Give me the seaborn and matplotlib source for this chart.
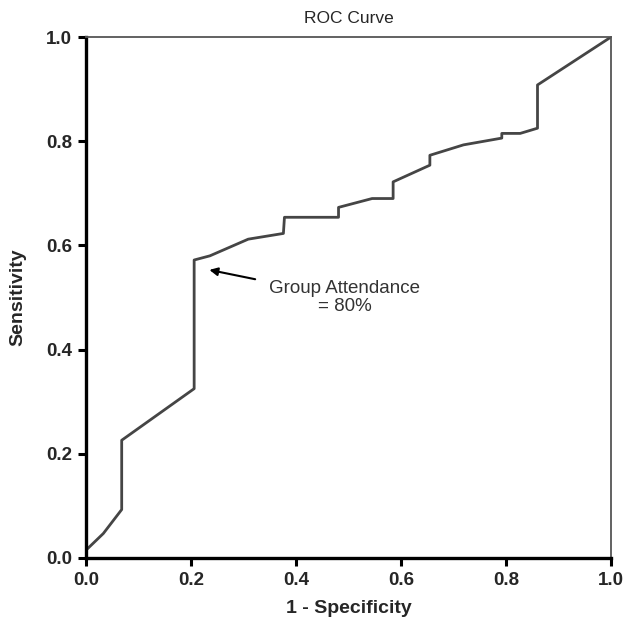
import matplotlib
matplotlib.use('Agg')
import matplotlib.pyplot as plt
import seaborn as sns
import pandas as pd

# ROC curve points
fpr = [0.0, 0.033, 0.068, 0.068, 0.206, 0.206, 0.236, 0.309, 0.376, 0.378,
       0.481, 0.481, 0.545, 0.585, 0.585, 0.655, 0.655, 0.719, 0.792, 0.792,
       0.827, 0.86, 0.86, 1.0]
tpr = [0.015, 0.047, 0.093, 0.226, 0.325, 0.572, 0.58, 0.612, 0.623, 0.654,
       0.654, 0.673, 0.69, 0.69, 0.722, 0.754, 0.773, 0.793, 0.806, 0.815,
       0.815, 0.825, 0.908, 1.0]
ticks = [0.0, 0.2, 0.4, 0.6, 0.8, 1.0]
tick_labels = ['0.0', '0.2', '0.4', '0.6', '0.8', '1.0']

df = pd.DataFrame({'fpr': fpr, 'tpr': tpr})

sns.set_style('ticks')
plt.rcParams['font.family'] = ['Liberation Sans', 'DejaVu Sans']

fig = plt.figure(figsize=(6.25, 6.33), dpi=100)
ax = fig.add_axes([0.1376, 0.1185, 0.84, 0.823])

# estimator=None so the steps are drawn as given, not averaged
sns.lineplot(data=df, x='fpr', y='tpr', sort=False, estimator=None,
             color='#454545', linewidth=2.0, ax=ax)

ax.set_xlim(0, 1)
ax.set_ylim(0, 1)
ax.set_xticks(ticks)
ax.set_xticklabels(tick_labels)
ax.set_yticks(ticks)
ax.set_yticklabels(tick_labels)
ax.tick_params(axis='both', direction='out', length=6, width=2.2, color='black',
               labelsize=13.5, pad=4)
for lab in ax.get_xticklabels() + ax.get_yticklabels():
    lab.set_fontweight('bold')

for side in ['left', 'bottom']:
    ax.spines[side].set_linewidth(2.4)
    ax.spines[side].set_color('black')
for side in ['top', 'right']:
    ax.spines[side].set_visible(True)
    ax.spines[side].set_linewidth(1.3)
    ax.spines[side].set_color('#555555')

ax.set_title('ROC Curve', fontsize=12.5, pad=10)
ax.set_xlabel('1 - Specificity', fontsize=14, fontweight='bold', labelpad=8)
ax.set_ylabel('Sensitivity', fontsize=14, fontweight='bold', labelpad=14)

ax.annotate('Group Attendance\n= 80%', xy=(0.235, 0.553), xytext=(0.493, 0.5),
            ha='center', va='center', fontsize=13.5, color='#333333',
            linespacing=1.15,
            arrowprops=dict(arrowstyle='-|>', color='black', lw=1.5,
                            shrinkA=8, shrinkB=0, mutation_scale=12))

fig.savefig('out.png', dpi=100)
